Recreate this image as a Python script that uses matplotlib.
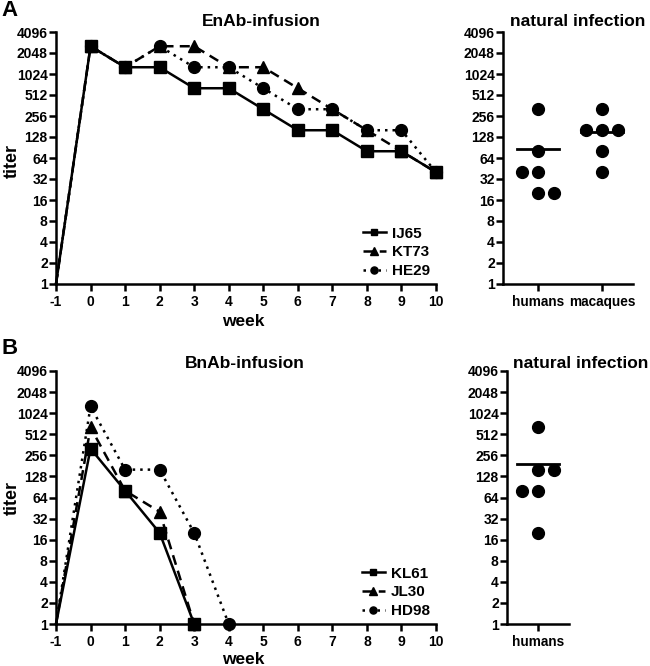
import numpy as np
import matplotlib
matplotlib.use("Agg")
from matplotlib import pyplot as plt
from matplotlib.ticker import FixedLocator, FixedFormatter, NullLocator

plt.rcParams['font.family'] = ['Liberation Sans', 'DejaVu Sans']
plt.rcParams['font.weight'] = 'bold'
plt.rcParams['axes.unicode_minus'] = False

# data
weeks = [-1, 0, 1, 2, 3, 4, 5, 6, 7, 8, 9, 10]
ij65 = [1, 2560, 1280, 1280, 640, 640, 320, 160, 160, 80, 80, 40]
kt73 = [1, 2560, 1280, 2560, 2560, 1280, 1280, 640, 320, 160, 80, 40]
he29 = [1, 2560, 1280, 2560, 1280, 1280, 640, 320, 320, 160, 160, 40]

weeks_kl61 = [-1, 0, 1, 2, 3]
kl61 = [1, 320, 80, 20, 1]
weeks_jl30 = [-1, 0, 1, 2, 3]
jl30 = [1, 640, 80, 40, 1]
weeks_hd98 = [-1, 0, 1, 2, 3, 4]
hd98 = [1, 1280, 160, 160, 20, 1]

nat_a_humans = [320, 80, 40, 40, 20, 20]
nat_a_humans_off = [0, 0, -0.25, 0, 0, 0.25]
nat_a_macaques = [320, 160, 160, 160, 80, 40]
nat_a_macaques_off = [0, -0.25, 0, 0.25, 0, 0]
nat_b_humans = [640, 160, 160, 80, 80, 20]
nat_b_humans_off = [0, 0, 0.25, -0.25, 0, 0]

yticks = [2 ** i for i in range(13)]

W, H = 650, 666


def px(l, t, r, b):
    return [l / W, 1 - b / H, (r - l) / W, (b - t) / H]


def style(ax):
    ax.set_yscale('log', base=2)
    ax.set_ylim(1, 4096)
    ax.yaxis.set_major_locator(FixedLocator(yticks))
    ax.yaxis.set_major_formatter(FixedFormatter([str(v) for v in yticks]))
    ax.yaxis.set_minor_locator(NullLocator())
    for s in ['top', 'right']:
        ax.spines[s].set_visible(False)
    for s in ['left', 'bottom']:
        ax.spines[s].set_linewidth(1.8)
    ax.tick_params(width=1.8, length=5, labelsize=10, pad=1)
    ax.tick_params(axis='x', pad=3)
    for lab in ax.get_xticklabels() + ax.get_yticklabels():
        lab.set_fontweight('bold')


fig = plt.figure(figsize=(W / 100, H / 100), dpi=100)

def course(ax, series):
    for x, y, mk, ls, lab in series:
        ax.plot(x, y, color='black', lw=1.8, ls=ls, marker=mk, ms=8 if mk == 's' else 8.5,
                markevery=list(range(1, len(x))), label=lab, clip_on=False, zorder=3)
    ax.set_xlim(-1, 10)
    ax.set_xticks(range(-1, 11))
    style(ax)
    leg = ax.legend(loc='lower right', frameon=False, handlelength=1.5, handletextpad=0.4,
                    fontsize=11, borderaxespad=0.0, labelspacing=0.3, markerscale=0.6,
                    bbox_to_anchor=(1.0, 0.0))
    for t in leg.get_texts():
        t.set_fontweight('bold')


def strip(ax, groups, xlim):
    for i, (vals, offs) in enumerate(groups):
        ax.plot([i + o for o in offs], vals, 'o', color='black', ms=8.5, clip_on=False, zorder=3)
        ax.plot([i - 0.33, i + 0.33], [np.mean(vals)] * 2, color='black', lw=2, zorder=2)
    ax.set_xlim(*xlim)
    style(ax)


ax1 = fig.add_axes(px(56, 32, 436, 284))
course(ax1, [(weeks, ij65, 's', '-', 'IJ65'),
             (weeks, kt73, '^', (0, (4, 2.5)), 'KT73'),
             (weeks, he29, 'o', (0, (1, 2)), 'HE29')])

ax2 = fig.add_axes(px(503, 32, 633, 284))
strip(ax2, [(nat_a_humans, nat_a_humans_off), (nat_a_macaques, nat_a_macaques_off)], (-0.55, 1.48))
ax2.set_xticks([0, 1])
ax2.set_xticklabels(['humans', 'macaques'], fontweight='bold', fontsize=9.8)

ax3 = fig.add_axes(px(56, 371, 436, 624))
course(ax3, [(weeks_kl61, kl61, 's', '-', 'KL61'),
             (weeks_jl30, jl30, '^', (0, (4, 2.5)), 'JL30'),
             (weeks_hd98, hd98, 'o', (0, (1, 2)), 'HD98')])

ax4 = fig.add_axes(px(507, 371, 569, 624))
strip(ax4, [(nat_b_humans, nat_b_humans_off)], (-0.48, 0.48))
ax4.set_xticks([0])
ax4.set_xticklabels(['humans'], fontweight='bold', fontsize=9.8)

def label(x, y, s, size, **kw):
    fig.text(x / W, 1 - y / H, s, ha='center', va='center', fontsize=size, fontweight='bold', **kw)

label(261, 21, 'EnAb-infusion', 12.5)
label(578, 21, 'natural infection', 12.5)
label(245, 363, 'BnAb-infusion', 12.5)
label(581, 363, 'natural infection', 12.5)
label(243, 322, 'week', 12.5)
label(243, 659, 'week', 12.5)
label(12, 161, 'titer', 13, rotation=90)
label(12, 498, 'titer', 13, rotation=90)
label(10, 11, 'A', 16)
label(10, 348, 'B', 16)

fig.savefig('out.png', dpi=100)
